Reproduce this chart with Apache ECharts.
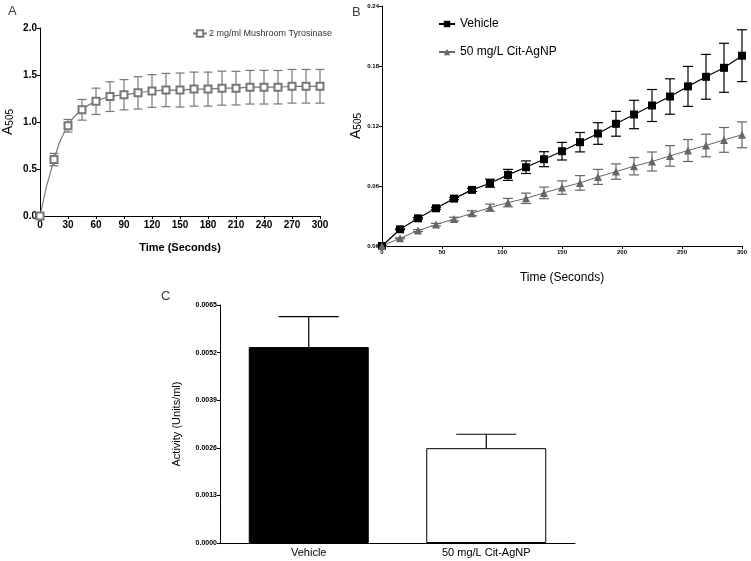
<!DOCTYPE html>
<html>
<head>
    <meta charset="utf-8">
    <title>ECharts</title>
    <script src="https://cdn.jsdelivr.net/npm/echarts@6/dist/echarts.min.js"></script>
    <style>
        body { margin: 0; background: #fff; }
    </style>
</head>
<body>
<div id="main" style="width: 751px;height:561px;"></div>
<script type="text/javascript">
    // time points (seconds), shared by panels A and B
    var times = [0, 15, 30, 45, 60, 75, 90, 105, 120, 135, 150, 165, 180, 195, 210, 225, 240, 255, 270, 285, 300];

    // panel A
    var tyrosinase = [0, 0.60, 0.96, 1.13, 1.22, 1.27, 1.29, 1.31, 1.33, 1.34, 1.34, 1.35, 1.35, 1.36, 1.36, 1.37, 1.37, 1.37, 1.38, 1.38, 1.38];
    var tyrosinaseErr = [0, 0.066, 0.067, 0.11, 0.14, 0.158, 0.161, 0.172, 0.174, 0.177, 0.181, 0.181, 0.181, 0.181, 0.179, 0.179, 0.179, 0.178, 0.179, 0.179, 0.179];

    // panel B
    var vehicle = [0, 0.0167, 0.0277, 0.0377, 0.0474, 0.0561, 0.0628, 0.0711, 0.0788, 0.0868, 0.0948, 0.1038, 0.1125, 0.1222, 0.1315, 0.1405, 0.1495, 0.1596, 0.1692, 0.1782, 0.1903];
    var vehicleErr = [0, 0.0005, 0.0008, 0.001, 0.0012, 0.0015, 0.004, 0.0055, 0.0063, 0.0075, 0.0088, 0.0097, 0.0108, 0.0124, 0.0142, 0.016, 0.0177, 0.020, 0.0224, 0.0245, 0.0259];
    var citAgNP = [0, 0.0077, 0.0154, 0.0214, 0.027, 0.0327, 0.0384, 0.0434, 0.0477, 0.0531, 0.0584, 0.0631, 0.0691, 0.0744, 0.0798, 0.0845, 0.0901, 0.0955, 0.1005, 0.1061, 0.1112];
    var citAgNPErr = [0, 0.0005, 0.001, 0.0012, 0.0018, 0.0025, 0.0035, 0.0042, 0.0052, 0.0058, 0.0067, 0.0073, 0.0075, 0.0077, 0.0087, 0.0095, 0.0103, 0.011, 0.0113, 0.0124, 0.0129];

    // panel C
    var groups = ['Vehicle', '50 mg/L Cit-AgNP'];
    var activity = [0.00535, 0.00259];
    var activityErr = [0.00083, 0.00038];

    var myChart = echarts.init(document.getElementById('main'));

    function pairs(ys) {
        return times.map(function (t, i) { return [t, ys[i]]; });
    }
    function triples(ys, es) {
        return times.map(function (t, i) { return [t, ys[i], es[i]]; });
    }

    // error bars: vertical line with caps
    function errorBars(capHalf, upOnly) {
        return function (params, api) {
            var x = api.value(0), y = api.value(1), e = api.value(2);
            var hi = api.coord([x, y + e]);
            var lo = api.coord([x, upOnly ? y : y - e]);
            var st = { stroke: api.visual('color'), lineWidth: 1.2 };
            var kids = [
                { type: 'line', shape: { x1: hi[0], y1: hi[1], x2: lo[0], y2: lo[1] }, style: st },
                { type: 'line', shape: { x1: hi[0] - capHalf, y1: hi[1], x2: hi[0] + capHalf, y2: hi[1] }, style: st }
            ];
            if (!upOnly) {
                kids.push({ type: 'line', shape: { x1: lo[0] - capHalf, y1: lo[1], x2: lo[0] + capHalf, y2: lo[1] }, style: st });
            }
            return { type: 'group', children: kids };
        };
    }

    var font = 'Liberation Sans, Arial, sans-serif';
    var axisLine = { show: true, lineStyle: { color: '#000', width: 1 } };
    var axisTick = { show: true, length: 3, lineStyle: { color: '#000' } };

    var option = {
        animation: false,
        textStyle: { fontFamily: font, color: '#000' },
        title: [
            { text: 'A', left: 3, top: 0, textStyle: { fontSize: 13, fontWeight: 'normal', fontFamily: font } },
            { text: 'B', left: 347, top: 1, textStyle: { fontSize: 13, fontWeight: 'normal', fontFamily: font } },
            { text: 'C', left: 156, top: 285, textStyle: { fontSize: 13, fontWeight: 'normal', fontFamily: font } }
        ],
        legend: [
            {
                data: ['2 mg/ml Mushroom Tyrosinase'],
                left: 187, top: 24,
                itemWidth: 14, itemHeight: 8, itemGap: 4,
                textStyle: { fontSize: 9, fontFamily: font, color: '#333', padding: [0, 0, 0, -3] }
            },
            {
                data: ['Vehicle', '50 mg/L Cit-AgNP'],
                orient: 'vertical',
                left: 433, top: 13,
                itemWidth: 16, itemHeight: 8, itemGap: 16,
                textStyle: { fontSize: 12, fontFamily: font, color: '#000' }
            }
        ],
        grid: [
            { left: 38, top: 28, width: 282, height: 188 },
            { left: 382, top: 6, width: 360, height: 240 },
            { left: 220, top: 305, width: 355, height: 238 }
        ],
        xAxis: [
            {
                gridIndex: 0, type: 'value', min: 0, max: 300, interval: 30,
                axisLine: axisLine, axisTick: axisTick, splitLine: { show: false },
                axisLabel: { fontSize: 10, fontWeight: 'bold', color: '#000', margin: 4 },
                name: 'Time (Seconds)', nameLocation: 'middle', nameGap: 26,
                nameTextStyle: { fontSize: 11, fontWeight: 'bold', color: '#000' }
            },
            {
                gridIndex: 1, type: 'value', min: 0, max: 300, interval: 50,
                axisLine: axisLine, axisTick: axisTick, splitLine: { show: false },
                axisLabel: { fontSize: 6, fontWeight: 'bold', color: '#000', margin: 3 },
                name: 'Time (Seconds)', nameLocation: 'middle', nameGap: 26,
                nameTextStyle: { fontSize: 12, color: '#000' }
            },
            {
                gridIndex: 2, type: 'category', data: groups,
                axisLine: axisLine, axisTick: { show: false },
                axisLabel: { fontSize: 11, color: '#000', margin: 4 }
            }
        ],
        yAxis: [
            {
                gridIndex: 0, type: 'value', min: 0, max: 2, interval: 0.5,
                axisLine: axisLine, axisTick: axisTick, splitLine: { show: false },
                axisLabel: { fontSize: 10, fontWeight: 'bold', color: '#000', margin: 3,
                    formatter: function (v) { return v.toFixed(1); } },
                name: 'A{s|505}', nameLocation: 'middle', nameRotate: 90, nameGap: 25,
                nameTextStyle: { fontSize: 14, color: '#000', rich: { s: { fontSize: 10, padding: [4, 0, 0, 0] } } }
            },
            {
                gridIndex: 1, type: 'value', min: 0, max: 0.24, interval: 0.06,
                axisLine: axisLine, axisTick: axisTick, splitLine: { show: false },
                axisLabel: { fontSize: 6, fontWeight: 'bold', color: '#000', margin: 3,
                    formatter: function (v) { return v.toFixed(2); } },
                name: 'A{s|505}', nameLocation: 'middle', nameRotate: 90, nameGap: 16,
                nameTextStyle: { fontSize: 14, color: '#000', rich: { s: { fontSize: 10, padding: [4, 0, 0, 0] } } }
            },
            {
                gridIndex: 2, type: 'value', min: 0, max: 0.0065, interval: 0.0013,
                axisLine: axisLine, axisTick: axisTick, splitLine: { show: false },
                axisLabel: { fontSize: 7, fontWeight: 'bold', color: '#000', margin: 3,
                    formatter: function (v) { return v.toFixed(4); } },
                name: 'Activity (Units/ml)', nameLocation: 'middle', nameRotate: 90, nameGap: 38,
                nameTextStyle: { fontSize: 11, color: '#000' }
            }
        ],
        series: [
            {
                name: 'tyrosinase err', type: 'custom', xAxisIndex: 0, yAxisIndex: 0,
                itemStyle: { color: '#777' }, z: 2,
                renderItem: errorBars(4.5, false), data: triples(tyrosinase, tyrosinaseErr)
            },
            {
                name: '2 mg/ml Mushroom Tyrosinase', type: 'line', xAxisIndex: 0, yAxisIndex: 0,
                data: pairs(tyrosinase), smooth: true, z: 3,
                symbol: 'emptyRect', symbolSize: 7,
                itemStyle: { color: '#777', borderWidth: 1.2 }, lineStyle: { color: '#777', width: 1.2 }
            },
            {
                name: 'vehicle err', type: 'custom', xAxisIndex: 1, yAxisIndex: 1,
                itemStyle: { color: '#000' }, z: 2,
                renderItem: errorBars(5, false), data: triples(vehicle, vehicleErr)
            },
            {
                name: 'cit err', type: 'custom', xAxisIndex: 1, yAxisIndex: 1,
                itemStyle: { color: '#666' }, z: 2,
                renderItem: errorBars(5, false), data: triples(citAgNP, citAgNPErr)
            },
            {
                name: 'Vehicle', type: 'line', xAxisIndex: 1, yAxisIndex: 1,
                data: pairs(vehicle), z: 3,
                symbol: 'rect', symbolSize: 8,
                itemStyle: { color: '#000' }, lineStyle: { color: '#000', width: 1.2 }
            },
            {
                name: '50 mg/L Cit-AgNP', type: 'line', xAxisIndex: 1, yAxisIndex: 1,
                data: pairs(citAgNP), z: 3,
                symbol: 'triangle', symbolSize: 8,
                itemStyle: { color: '#666' }, lineStyle: { color: '#666', width: 1 }
            },
            {
                name: 'Activity', type: 'bar', xAxisIndex: 2, yAxisIndex: 2,
                barWidth: 120,
                data: activity.map(function (v, i) {
                    return { value: v, itemStyle: { color: i === 0 ? '#000' : '#fff', borderColor: '#000', borderWidth: 1 } };
                })
            },
            {
                name: 'activity err', type: 'custom', xAxisIndex: 2, yAxisIndex: 2,
                itemStyle: { color: '#000' }, z: 3,
                renderItem: errorBars(30, true),
                data: activity.map(function (v, i) { return [i, v, activityErr[i]]; })
            }
        ]
    };

    myChart.setOption(option);
</script>
</body>
</html>
